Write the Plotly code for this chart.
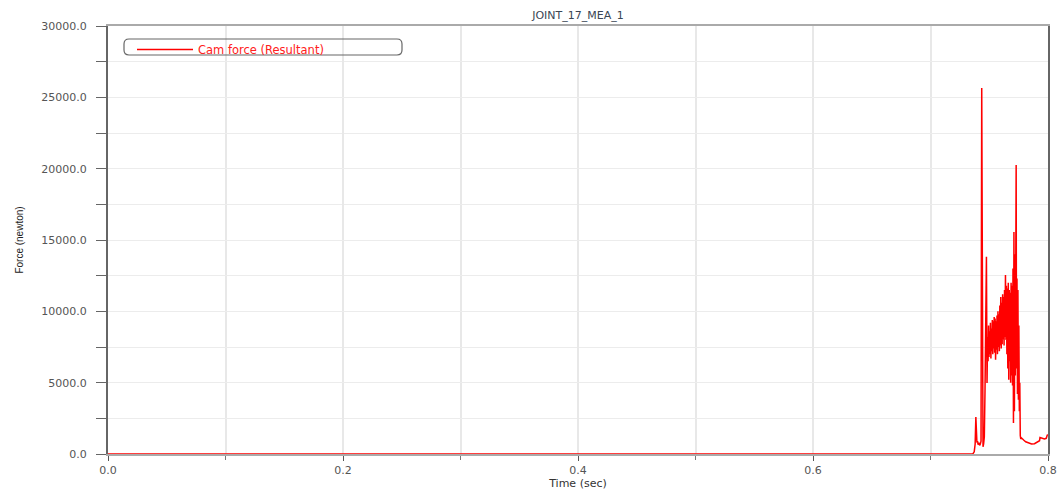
import plotly.graph_objects as go

# ---------------- data ----------------
series_name = "Cam force (Resultant)"

time_pre = [0.0, 0.7360, 0.7372, 0.7380, 0.7386, 0.7390, 0.7395, 0.7400, 0.7405,
            0.7412, 0.7418, 0.7424, 0.7430, 0.7436, 0.7442, 0.7447, 0.7452, 0.7458,
            0.7464, 0.7470, 0.7476, 0.7481]
force_pre = [0.0, 0.0, 150, 700, 2600, 1100, 800, 900, 650,
             800, 600, 700, 900, 25650, 6000, 500, 700, 1200,
             4500, 9000, 13830, 4970]

time_band = [0.7486, 0.7490, 0.7494, 0.7498, 0.7502, 0.7506, 0.7510, 0.7514, 0.7518, 0.7522,
             0.7526, 0.7530, 0.7534, 0.7538, 0.7542, 0.7546, 0.7550, 0.7554, 0.7558, 0.7562,
             0.7566, 0.7570, 0.7574, 0.7578, 0.7582, 0.7586, 0.7590, 0.7594, 0.7598, 0.7602,
             0.7606, 0.7610, 0.7614, 0.7618, 0.7622, 0.7626, 0.7630, 0.7634, 0.7638, 0.7642,
             0.7646, 0.7650, 0.7654, 0.7658, 0.7662, 0.7666, 0.7670, 0.7674, 0.7678, 0.7682,
             0.7686, 0.7690, 0.7694, 0.7698, 0.7702, 0.7706, 0.7710, 0.7714, 0.7718, 0.7722,
             0.7726, 0.7729, 0.7732, 0.7736, 0.7740, 0.7744, 0.7748, 0.7752, 0.7756, 0.7760,
             0.7764, 0.7768]
force_band = [8200, 6500, 9000, 6800, 8600, 7000, 9200, 6700, 8800, 7200,
              9400, 7000, 9300, 7400, 9600, 7100, 9500, 6600, 9300, 7300,
              9700, 7000, 10000, 7500, 9800, 7200, 10400, 7600, 11000, 7400,
              10600, 7700, 11200, 8000, 11000, 7600, 11500, 8200, 12550, 8000,
              11800, 7000, 11600, 6000, 12000, 5200, 11500, 6500, 11300, 5000,
              12000, 5500, 11800, 4800, 13000, 2170, 15560, 3000, 14000, 5500,
              12000, 20260, 6000, 12300, 4200, 11500, 3800, 9000, 3000, 5000,
              1300, 1050]

time_tail = [0.7775, 0.7785, 0.7795, 0.7810, 0.7835, 0.7860, 0.7885, 0.7910, 0.7928,
             0.7932, 0.7950, 0.7970, 0.7985, 0.7995, 0.8000]
force_tail = [1120, 1000, 960, 860, 760, 700, 720, 820, 930,
              1150, 1100, 1050, 1100, 1350, 1300]

time = time_pre + time_band + time_tail
force = force_pre + force_band + force_tail

x_ticks = [0.0, 0.2, 0.4, 0.6, 0.8]
x_tick_labels = ["0.0", "0.2", "0.4", "0.6", "0.8"]
y_ticks = [0, 5000, 10000, 15000, 20000, 25000, 30000]
y_tick_labels = ["0.0", "5000.0", "10000.0", "15000.0", "20000.0", "25000.0", "30000.0"]

# ---------------- figure ----------------
W, H = 1062, 492
ML, MR, MT, MB = 108, 14, 26, 38
PW, PH = W - ML - MR, H - MT - MB

def px_to_paper(px, py):
    return (px - ML) / PW, (H - MB - py) / PH

fig = go.Figure()
fig.add_trace(go.Scatter(
    x=time, y=force, mode="lines", name=series_name,
    line=dict(color="#ff0000", width=1.5),
    showlegend=True,
))

tick_font = dict(family="DejaVu Sans, Arial", size=11, color="#555555")

fig.update_layout(
    width=W, height=H,
    margin=dict(l=ML, r=MR, t=MT, b=MB, autoexpand=False),
    paper_bgcolor="white", plot_bgcolor="white",
    title=dict(text="JOINT_17_MEA_1", x=0.5, xref="paper", xanchor="center",
               y=1 - 15 / H, yref="container", yanchor="middle",
               font=dict(family="DejaVu Sans, Arial", size=11, color="#3a4654")),
    showlegend=True,
    legend=dict(x=px_to_paper(132, 0)[0], y=px_to_paper(0, 35)[1], xanchor="left", yanchor="top",
                bgcolor="rgba(0,0,0,0)", borderwidth=0, itemwidth=56,
                font=dict(family="DejaVu Sans, Arial", size=11.5, color="#ff2020"),
                tracegroupgap=0),
    xaxis=dict(range=[0, 0.8], tickvals=x_ticks, ticktext=x_tick_labels,
               ticks="outside", ticklen=5, tickcolor="#555555", tickfont=tick_font,
               showgrid=True, gridcolor="#e8e8e8", gridwidth=1.5,
               minor=dict(dtick=0.1, showgrid=True, gridcolor="#e8e8e8", gridwidth=1.5,
                          ticks="outside", ticklen=4, tickcolor="#777777"),
               showline=True, linecolor="#aaaaaa", linewidth=1.5, mirror=True,
               zeroline=False, automargin=False,
               title=dict(text="Time (sec)", standoff=2,
                          font=dict(family="DejaVu Sans, Arial", size=11, color="#333333"))),
    yaxis=dict(range=[0, 30000], tickvals=y_ticks, ticktext=y_tick_labels,
               ticks="outside", ticklen=10, tickcolor="#666666", tickfont=tick_font,
               ticklabelstandoff=7,
               showgrid=True, gridcolor="#ececec", gridwidth=1,
               minor=dict(dtick=2500, showgrid=True, gridcolor="#ececec", gridwidth=1,
                          ticks="outside", ticklen=10, tickcolor="#666666"),
               showline=True, linecolor="#666666", linewidth=2, mirror=True,
               zeroline=False, automargin=False,
               title=dict(text="Force (newton)", standoff=16,
                          font=dict(family="Liberation Sans, Arial", size=10, color="#222222"))),
)

# rounded legend frame
x0, y0 = px_to_paper(124, 55)
x1, y1 = px_to_paper(402, 39)
rx, ry = 5 / PW, 5 / PH
path = (f"M {x0+rx},{y0} L {x1-rx},{y0} Q {x1},{y0} {x1},{y0+ry} "
        f"L {x1},{y1-ry} Q {x1},{y1} {x1-rx},{y1} "
        f"L {x0+rx},{y1} Q {x0},{y1} {x0},{y1-ry} "
        f"L {x0},{y0+ry} Q {x0},{y0} {x0+rx},{y0} Z")
fig.add_shape(type="path", path=path, xref="paper", yref="paper",
              line=dict(color="#666666", width=1.2), fillcolor="rgba(0,0,0,0)")

fig.write_html("out.html")
